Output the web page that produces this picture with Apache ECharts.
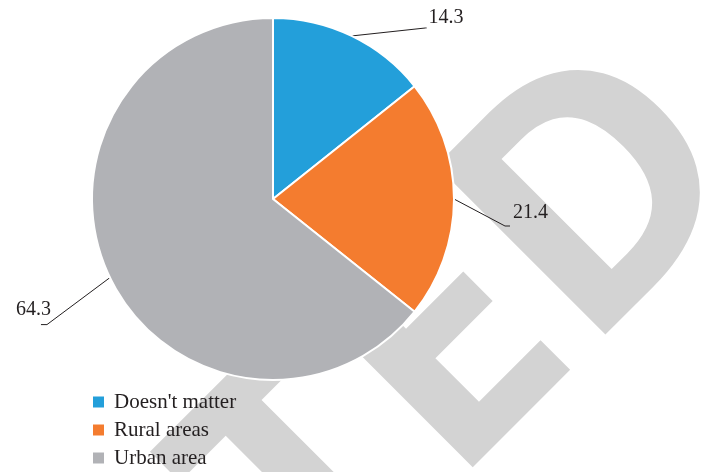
<!DOCTYPE html>
<html>
<head>
<meta charset="utf-8">
<script src="https://cdn.jsdelivr.net/npm/echarts@6/dist/echarts.min.js"></script>
<style>
  html, body { margin: 0; padding: 0; background: #ffffff; }
  #chart { width: 703px; height: 472px; }
</style>
</head>
<body>
<div id="chart"></div>
<script>
// Preferred place of residence (%)
const categories = ["Doesn't matter", "Rural areas", "Urban area"];
const shares = [14.3, 21.4, 64.3];
const sliceColors = ['#239fda', '#f47c2f', '#b1b2b6'];

const serif = '"Liberation Serif", "Times New Roman", serif';
const ink = '#231f20';

// Leader line bends and label offsets, per slice (pixels from the slice edge)
const leaderStyle = [
  { bend: [74, -8], tail: [1, 0], text: [2, -10], align: 'left' },
  { bend: [51, 27], tail: [5, 0], text: [3, -13], align: 'left' },
  { bend: [-63, 47], tail: [-6, 0], text: [10, -15], align: 'right' }
];

const chart = echarts.init(document.getElementById('chart'), null, { renderer: 'canvas' });

chart.setOption({
  backgroundColor: '#ffffff',
  animation: false,
  color: sliceColors,
  graphic: {
    elements: [{
      type: 'text',
      x: 692,
      y: 113,
      rotation: Math.PI / 4,
      z: 0,
      silent: true,
      style: {
        text: 'RETRACTED',
        font: 'bold 335px "Open Sans", "Liberation Sans", sans-serif',
        fill: '#d3d3d3',
        textAlign: 'right',
        align: 'right',
        textVerticalAlign: 'middle',
        verticalAlign: 'middle'
      }
    }]
  },
  legend: {
    orient: 'vertical',
    left: 91,
    top: 391,
    padding: 0,
    itemWidth: 13,
    itemHeight: 13,
    itemGap: 6,
    icon: 'rect',
    data: categories,
    textStyle: {
      fontFamily: serif,
      fontSize: 21,
      lineHeight: 22,
      color: ink,
      padding: [0, 0, 0, 4]
    }
  },
  series: [{
    type: 'pie',
    z: 2,
    center: [273, 199],
    radius: 181,
    startAngle: 90,
    clockwise: true,
    avoidLabelOverlap: false,
    itemStyle: { borderColor: '#ffffff', borderWidth: 2 },
    label: {
      show: true,
      formatter: '{c}',
      fontFamily: serif,
      fontSize: 20,
      color: ink
    },
    labelLine: {
      show: true,
      length: 20,
      length2: 5,
      lineStyle: { color: ink, width: 1 }
    },
    labelLayout: function (params) {
      const s = leaderStyle[params.dataIndex];
      const p0 = params.labelLinePoints[0];
      const p1 = [p0[0] + s.bend[0], p0[1] + s.bend[1]];
      const p2 = [p1[0] + s.tail[0], p1[1] + s.tail[1]];
      return {
        x: p2[0] + s.text[0],
        y: p2[1] + s.text[1],
        align: s.align,
        verticalAlign: 'middle',
        labelLinePoints: [p0, p1, p2]
      };
    },
    data: categories.map((name, i) => ({ name: name, value: shares[i] }))
  }]
});
</script>
</body>
</html>
